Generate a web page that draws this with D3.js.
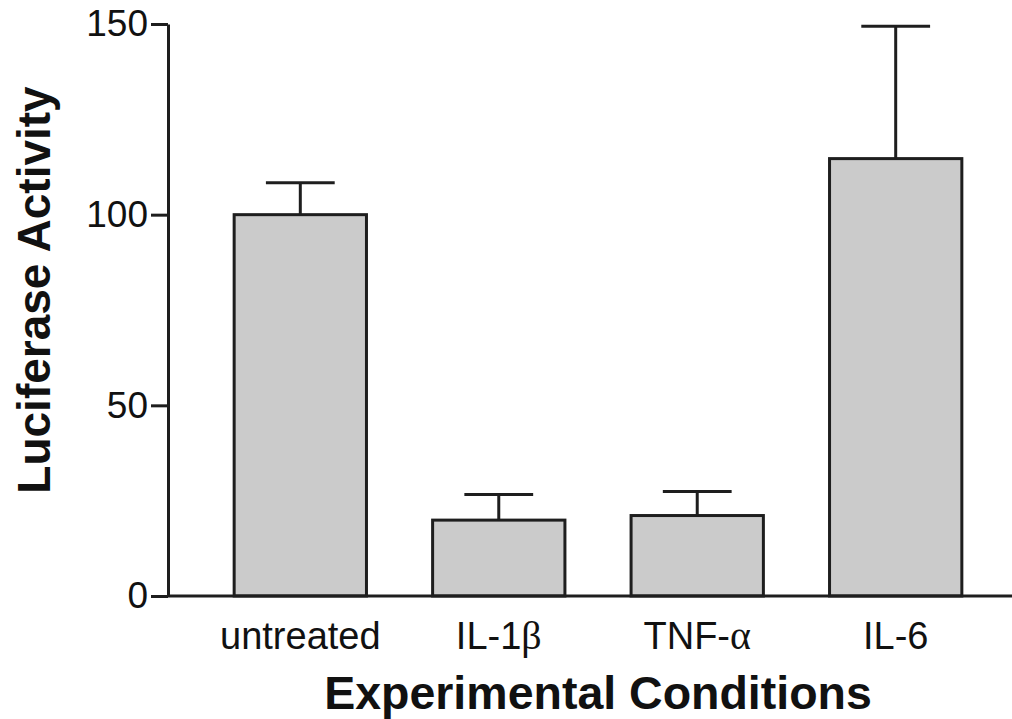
<!DOCTYPE html>
<html>
<head>
<meta charset="utf-8">
<script src="https://cdn.jsdelivr.net/npm/d3@7"></script>
<style>
  body { margin: 0; background: #fff; }
  text { font-family: "Liberation Sans", Arial, Helvetica, sans-serif; fill: #111; }
</style>
</head>
<body>
<div id="display"></div>
<script>
// data
var conditions = ["untreated", "IL-1\u03b2", "TNF-\u03b1", "IL-6"];
var means = [100, 19.9, 21.1, 114.7];
var errors = [8.4, 6.7, 6.3, 34.7];
var yTicks = [0, 50, 100, 150];

var width = 1012, height = 719;
var margin = {top: 24, left: 168, bottom: 123};

var svg = d3.select("#display")
  .append("svg")
    .attr("width", width)
    .attr("height", height);

var x = d3.scaleBand()
    .domain(conditions)
    .range([margin.left, 1028])
    .paddingInner(1 / 3)
    .paddingOuter(1 / 3);

var y = d3.scaleLinear()
    .domain([0, 150])
    .range([height - margin.bottom, margin.top]);

var ink = "#1e1e1e";

// bars
svg.selectAll("rect.bar")
  .data(conditions)
  .enter()
  .append("rect")
    .attr("class", "bar")
    .attr("x", function(d) { return x(d) })
    .attr("y", function(d, i) { return y(means[i]) })
    .attr("width", x.bandwidth())
    .attr("height", function(d, i) { return y(0) - y(means[i]) })
    .attr("fill", "#cbcbcb")
    .attr("stroke", ink)
    .attr("stroke-width", 3);

// error bars, upward only
var capW = x.bandwidth() * 0.52;
var err = svg.selectAll("g.err")
  .data(conditions)
  .enter()
  .append("g")
    .attr("class", "err")
    .attr("stroke", ink)
    .attr("stroke-width", 3);
err.append("line")
    .attr("x1", function(d) { return x(d) + x.bandwidth() / 2 })
    .attr("x2", function(d) { return x(d) + x.bandwidth() / 2 })
    .attr("y1", function(d, i) { return y(means[i]) })
    .attr("y2", function(d, i) { return y(means[i] + errors[i]) });
err.append("line")
    .attr("x1", function(d) { return x(d) + x.bandwidth() / 2 - capW / 2 })
    .attr("x2", function(d) { return x(d) + x.bandwidth() / 2 + capW / 2 })
    .attr("y1", function(d, i) { return y(means[i] + errors[i]) })
    .attr("y2", function(d, i) { return y(means[i] + errors[i]) });

// x baseline
svg.append("line")
    .attr("x1", margin.left)
    .attr("x2", width)
    .attr("y1", y(0))
    .attr("y2", y(0))
    .attr("stroke", ink)
    .attr("stroke-width", 3);

// y axis
var yAxis = svg.append("g")
    .attr("transform", "translate(" + margin.left + ",0)")
    .call(d3.axisLeft(y).tickValues(yTicks).tickSize(17).tickSizeOuter(0).tickPadding(3));
yAxis.selectAll("path, line").attr("stroke", ink).attr("stroke-width", 3);
yAxis.selectAll("text")
    .style("font-size", "37px")
    .attr("fill", "#111");

// x tick labels, greek letters in a serif face like the original
var xAxis = svg.append("g")
    .attr("transform", "translate(0," + y(0) + ")")
    .call(d3.axisBottom(x).tickSize(0));
xAxis.select(".domain").remove();
xAxis.selectAll("text")
    .attr("y", 53)
    .attr("dy", 0)
    .style("font-size", "38px")
    .attr("fill", "#111")
    .text(null)
    .each(function(d) {
      var t = d3.select(this);
      var m = d.match(/^(.*?)([\u03b1-\u03c9]?)$/);
      t.append("tspan").text(m[1]);
      if (m[2]) t.append("tspan").style("font-family", "'Liberation Serif', 'DejaVu Serif', serif").style("font-size", "40px").text(m[2]);
    });

// axis titles
svg.append("text")
    .attr("x", (x(conditions[0]) + x(conditions[3]) + x.bandwidth()) / 2)
    .attr("y", 709)
    .attr("text-anchor", "middle")
    .style("font-size", "46.5px")
    .style("font-weight", "bold")
    .text("Experimental Conditions");

svg.append("text")
    .attr("transform", "translate(50,290) rotate(-90)")
    .attr("text-anchor", "middle")
    .style("font-size", "46px")
    .style("font-weight", "bold")
    .text("Luciferase Activity");
</script>
</body>
</html>
